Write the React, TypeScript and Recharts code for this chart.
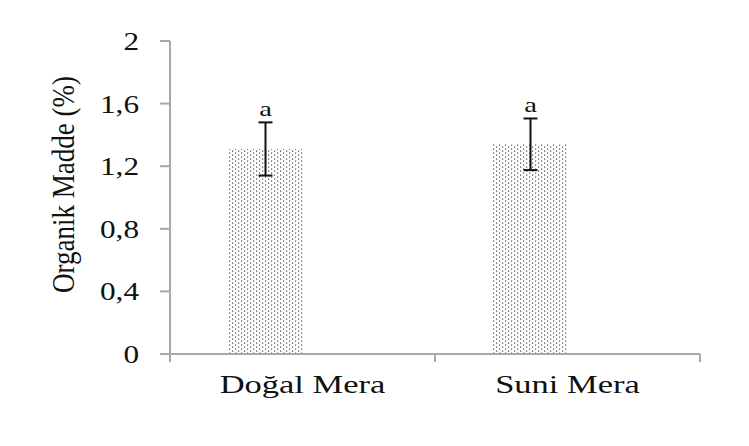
import React from "react";
import { BarChart, Bar, XAxis, YAxis, ErrorBar, LabelList } from "recharts";

// values
const categories = ["Doğal Mera", "Suni Mera"];
const organicMatter = [1.31, 1.34];
const stdError = [0.17, 0.165];
const letters = ["a", "a"];
const yTicks = [0, 0.4, 0.8, 1.2, 1.6, 2];

const data = categories.map((name, i) => ({
  name,
  value: organicMatter[i],
  err: stdError[i],
  letter: letters[i],
  blank: null, // empty second series, as in the original spreadsheet chart
}));

const FONT = "'Liberation Serif', 'Times New Roman', serif";
const STRETCH = 1.38;
const AXIS = "#a8a8a8";

const XTick = (props: any) => {
  const { x, y, payload } = props;
  return (
    <text
      transform={`translate(${x},${y + 31}) scale(${STRETCH},1)`}
      textAnchor="middle"
      fontFamily={FONT}
      fontSize={25}
      fill="#111"
    >
      {payload.value}
    </text>
  );
};

const YTick = (props: any) => {
  const { x, y, payload } = props;
  return (
    <text
      transform={`translate(${x},${y + 9}) scale(1.25,1)`}
      textAnchor="end"
      fontFamily={FONT}
      fontSize={25}
      fill="#111"
    >
      {String(payload.value).replace(".", ",")}
    </text>
  );
};

// axis title, plus the frame round the whole figure
const YLabel = (props: any) => {
  const { viewBox } = props;
  const cy = viewBox.y + viewBox.height / 2 - 13;
  return (
    <g>
      <rect x={5} y={3} width={737} height={438} fill="none" stroke="#3a3a3a" strokeWidth={2} />
      <text
        transform={`translate(74,${cy}) scale(1.2,1) rotate(-90)`}
        textAnchor="middle"
        fontFamily={FONT}
        fontSize={27}
        fill="#111"
      >
        Organik Madde (%)
      </text>
    </g>
  );
};

const LetterLabel = (props: any) => {
  const { x, y, width, height, value, index } = props;
  // lift the letter above the error bar cap
  const pxPerUnit = height / data[index].value;
  const top = y - data[index].err * pxPerUnit;
  return (
    <text
      transform={`translate(${x + width / 2},${top - 6}) scale(1.3,1)`}
      textAnchor="middle"
      fontFamily={FONT}
      fontSize={22}
      fill="#111"
    >
      {value}
    </text>
  );
};

const NoLabel = () => <g />;

export default function App() {
  return (
    <div style={{ width: 749, height: 446, margin: -8, background: "#fff" }}>
      <BarChart
        width={749}
        height={446}
        data={data}
        margin={{ top: 41, right: 49, bottom: 0, left: 0 }}
        barSize={75}
        barGap={0}
      >
        <defs>
          <pattern id="dots" width="6" height="4" patternUnits="userSpaceOnUse">
            <rect width="6" height="4" fill="#fff" />
            <rect x="1" y="0.5" width="1.2" height="1.2" fill="#444" />
            <rect x="4" y="2.5" width="1.2" height="1.2" fill="#444" />
          </pattern>
        </defs>
        {/* boundary ticks under the categories, as in the original */}
        <XAxis
          xAxisId={0}
          type="number"
          dataKey="value"
          domain={[0, 2]}
          allowDataOverflow
          ticks={[0, 1, 2]}
          interval={0}
          tick={<NoLabel />}
          height={8}
          stroke={AXIS}
          strokeWidth={2}
          tickSize={8}
        />
        <XAxis
          xAxisId="cat"
          dataKey="name"
          axisLine={false}
          tickLine={false}
          tickSize={0}
          tickMargin={0}
          tick={<XTick />}
          height={84}
        />
        <YAxis
          domain={[0, 2]}
          ticks={yTicks}
          width={170}
          interval={0}
          stroke={AXIS}
          strokeWidth={2}
          tickSize={10}
          tickMargin={21}
          tick={<YTick />}
          label={<YLabel />}
        />
        <Bar xAxisId="cat" dataKey="value" fill="url(#dots)" isAnimationActive={false}>
          <ErrorBar dataKey="err" width={7} stroke="#111" strokeWidth={2} />
          <LabelList dataKey="letter" content={<LetterLabel />} />
        </Bar>
        <Bar xAxisId="cat" dataKey="blank" fill="url(#dots)" isAnimationActive={false} />
      </BarChart>
    </div>
  );
}
